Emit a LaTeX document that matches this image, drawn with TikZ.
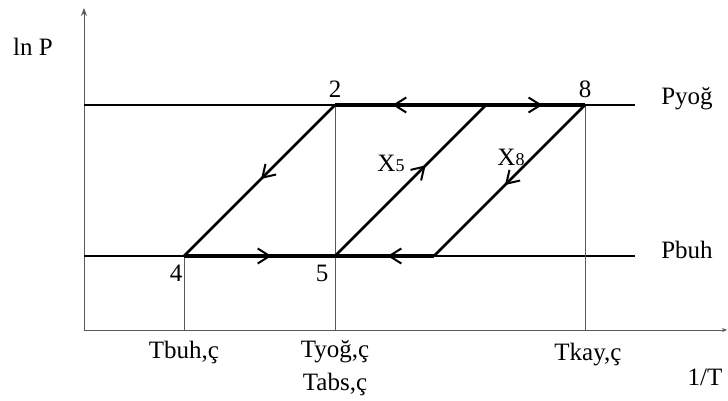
\documentclass[tikz,border=0pt]{standalone}
\usepackage{fontspec}
\setmainfont{Liberation Serif}
\usetikzlibrary{arrows.meta,decorations.markings}
\tikzset{
  thinline/.style={line width=1.1pt, black},
  grayline/.style={line width=1pt, black!65},
  heavy/.style={line width=3.2pt, black},
  diag/.style={line width=2.5pt, black},
  midarrow/.style={postaction={decorate}, decoration={markings, mark=at position #1 with {\arrow{Straight Barb[length=12pt,width=15pt,line width=2pt]}}}},
  lbl/.style={font=\fontsize{25}{29}\selectfont, inner sep=0pt},
}
\begin{document}
\begin{tikzpicture}[x=1pt,y=-1pt]
\useasboundingbox (0,0) rectangle (728,401);
% axis coordinates
\coordinate (O) at (84,330);
\coordinate (Ytop) at (84,8);
\coordinate (Xend) at (727,330);
% levels
\coordinate (PyL) at (84,105);
\coordinate (PyR) at (635,105);
\coordinate (PbL) at (84,256);
\coordinate (PbR) at (635,256);
% cycle points
\coordinate (n2) at (335,105);
\coordinate (n8) at (585,105);
\coordinate (nA) at (486,105);
\coordinate (n4) at (184,256);
\coordinate (n5) at (335,256);
\coordinate (nB) at (434,256);
% foot points
\coordinate (f4) at (184,330);
\coordinate (f5) at (335,330);
\coordinate (f8) at (585,330);

% axes
\draw[grayline, -{Stealth[length=8pt,width=6pt]}] (O) -- (Ytop);
\draw[grayline, -{Stealth[length=5pt,width=4pt]}] (O) -- (Xend);
% level lines
\draw[thinline] (PyL) -- (PyR);
\draw[thinline] (PbL) -- (PbR);
% verticals
\draw[grayline] (n4) -- (f4);
\draw[grayline] (n2) -- (f5);
\draw[grayline] (n8) -- (f8);
% heavy horizontals
\draw[heavy, midarrow=0.62] (nA) -- (n2);
\draw[heavy, midarrow=0.57] (nA) -- (n8);
\draw[heavy, midarrow=0.58] (n4) -- (n5);
\draw[heavy, midarrow=0.47] (nB) -- (n5);
% diagonals
\draw[diag, midarrow=0.49] (n2) -- (n4);
\draw[diag, midarrow=0.60] (n5) -- (nA);
\draw[diag, midarrow=0.53] (n8) -- (nB);

% labels
\node[lbl] (lnP) at (33,47) {ln P};
\node[lbl] (l2) at (335,89) {2};
\node[lbl] (l8) at (585,89) {8};
\node[lbl] (lPy) at (687,99) {Pyoğ};
\node[lbl] (lPb) at (687,250) {Pbuh};
\node[lbl] (l4) at (176,273) {4};
\node[lbl] (l5) at (322,273) {5};
\node[lbl] (lX5) at (391,163) {X{\fontsize{18}{20}\selectfont 5}};
\node[lbl] (lX8) at (511,157) {X{\fontsize{18}{20}\selectfont 8}};
\node[lbl] (lTb) at (184,352) {Tbuh,ç};
\node[lbl] (lTy) at (335,352) {Tyoğ,ç};
\node[lbl] (lTa) at (335,384) {Tabs,ç};
\node[lbl] (lTk) at (588,355) {Tkay,ç};
\node[lbl] (lT) at (705,377) {1/T};
\end{tikzpicture}
\end{document}
